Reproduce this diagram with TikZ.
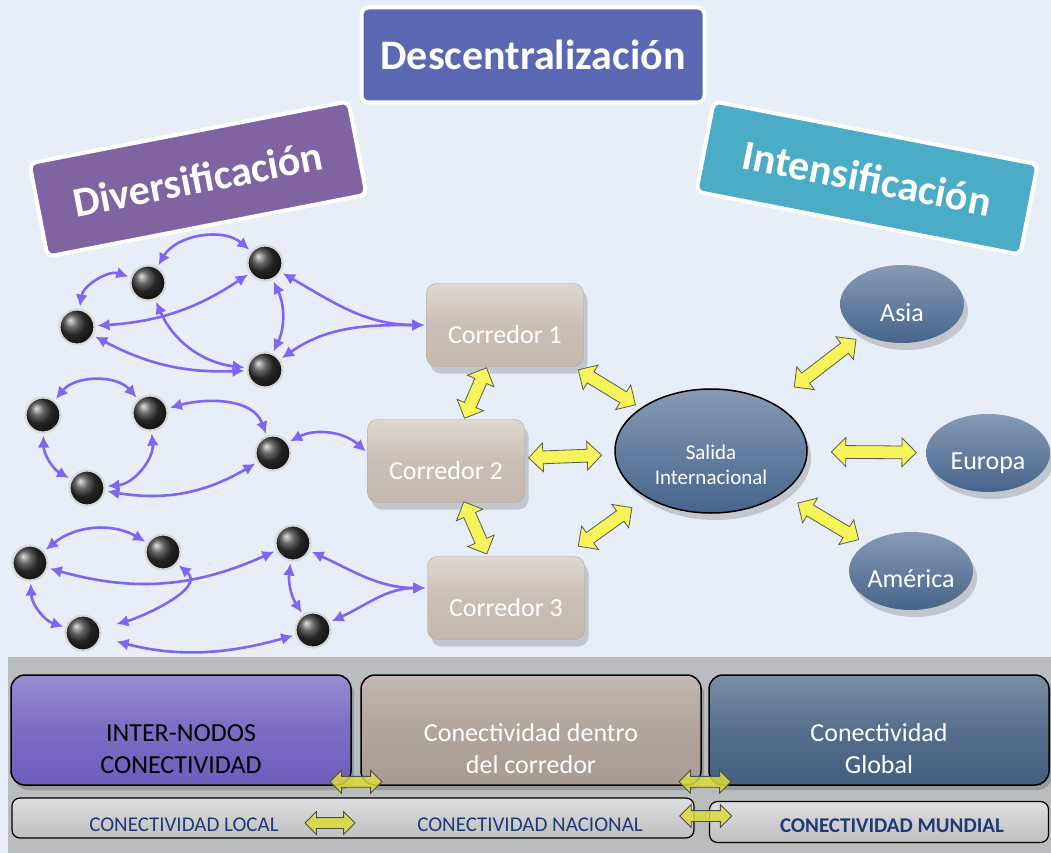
\documentclass[tikz,border=0pt]{standalone}
\usepackage{fontspec}
\setmainfont{Carlito}
\usetikzlibrary{arrows.meta,shapes.geometric,shapes.arrows,shadows,calc}

\definecolor{fondo}{HTML}{E8EEF7}
\definecolor{banda}{HTML}{B9BDBE}
\definecolor{moradoT}{HTML}{8064A2}
\definecolor{azulT}{HTML}{5A68B4}
\definecolor{aguaT}{HTML}{4BACC6}
\definecolor{taupe}{HTML}{C4B8AE}
\definecolor{azulE}{HTML}{46648C}
\definecolor{violeta}{HTML}{7F65F2}
\definecolor{amarillo}{HTML}{F5F55A}
\definecolor{oliva}{HTML}{DCDC3C}
\definecolor{morado}{HTML}{6E5CBD}
\definecolor{gris}{HTML}{A89B91}
\definecolor{azulG}{HTML}{435E80}
\definecolor{marino}{HTML}{1F3A78}

\tikzset{
  cabecera/.style={rectangle, rounded corners=7pt, draw=white, line width=4pt, text=white,
    font=\bfseries\fontsize{42}{44}\selectfont},
  bola/.style={circle, minimum size=35pt, inner sep=0pt, ball color=black!80, draw=gray!30, line width=2.2pt},
  parrow/.style={violeta, line width=2.6pt, {Latex[length=12pt,width=12pt]}-{Latex[length=12pt,width=12pt]},
    shorten <=2pt, shorten >=2pt},
  corredor/.style={rectangle, rounded corners=10pt, minimum width=157pt, minimum height=83pt,
    top color=taupe!55!white, bottom color=taupe, middle color=taupe!90!white, draw=taupe!90!black,
    text=white, font=\fontsize{26}{30}\selectfont, text height=37pt, text depth=0pt,
    drop shadow={shadow xshift=4pt, shadow yshift=-7pt, opacity=0.35}},
  region/.style={ellipse, minimum width=124pt, minimum height=78pt, inner sep=0pt,
    top color=azulE!65!white, bottom color=azulE, text=white, font=\fontsize{26}{30}\selectfont,
    drop shadow={shadow xshift=4pt, shadow yshift=-7pt, opacity=0.35}},
  yarrow/.style={double arrow, sloped, fill=amarillo, draw=black!65, line width=0.8pt, inner sep=6pt,
    double arrow head extend=8pt, minimum height=#1},
  pflecha/.style={double arrow, fill=oliva, fill opacity=0.85, draw=black!70, line width=0.8pt, inner sep=5pt,
    double arrow head extend=6pt, minimum height=#1},
  bloque/.style={rectangle, rounded corners=14pt, draw=black, line width=1.5pt, minimum width=340pt,
    minimum height=110pt, align=center, font=\fontsize{26}{32}\selectfont,
    drop shadow={shadow xshift=3pt, shadow yshift=-5pt, opacity=0.55}},
  barra/.style={rectangle, rounded corners=8pt, draw=black, line width=1.2pt, top color=gray!25,
    bottom color=gray!50, minimum height=40pt},
  rotulo/.style={text=marino, font=\fontsize{21}{24}\selectfont}
}

\begin{document}
\begin{tikzpicture}
  \useasboundingbox (0,0) rectangle (1051pt,-853pt);
  \begin{scope}[x=1pt,y=1pt]
    \fill[fondo] (0,0) rectangle (1051,-853);
    \fill[banda] (8,-657) rectangle (1051,-853);

    % titulos
    \node[cabecera, fill=azulT, minimum width=343pt, minimum height=95pt] (desc) at (533,-55) {Descentralización};
    \node[cabecera, fill=moradoT, minimum width=325pt, minimum height=95pt, rotate=11] (div) at (198,-179) {Diversificación};
    \node[cabecera, fill=aguaT, minimum width=330pt, minimum height=92pt, rotate=-11] (int) at (867,-178) {Intensificación};

    % corredores y salida
    \node[corredor] (cor1) at (505,-325) {Corredor 1};
    \node[corredor] (cor2) at (446,-461) {Corredor 2};
    \node[corredor] (cor3) at (506,-598) {Corredor 3};
    \node[region, minimum width=192pt, minimum height=124pt, draw=black, line width=1.5pt, align=center,
      font=\fontsize{21}{25}\selectfont] (sal) at (711,-451) {\strut\\Salida\\Internacional};
    \node[region, text height=35pt, text depth=0pt] (asia) at (902,-304) {Asia};
    \node[region, text height=32pt, text depth=0pt] (europa) at (988,-453) {Europa};
    \node[region, text height=32pt, text depth=0pt] (america) at (911,-571) {América};

    \coordinate (e2) at ([yshift=8pt]cor2.west);
    \coordinate (e3) at ([yshift=10pt]cor3.west);

    % nodos
    \node[bola] (a1) at (148,-283) {};
    \node[bola] (a2) at (265,-263) {};
    \node[bola] (a3) at (77,-327) {};
    \node[bola] (a4) at (265,-370) {};
    \node[bola] (b1) at (43,-415) {};
    \node[bola] (b2) at (150,-413) {};
    \node[bola] (b3) at (87,-488) {};
    \node[bola] (b4) at (273,-453) {};
    \node[bola] (c1) at (30,-563) {};
    \node[bola] (c2) at (163,-552) {};
    \node[bola] (c3) at (293,-543) {};
    \node[bola] (c4) at (83,-633) {};
    \node[bola] (c5) at (313,-630) {};

    \draw[parrow] (a1) to[bend left=50] (a2);
    \draw[parrow] (a3) to[bend left=50] (a1);
    \draw[parrow] (a3) to[bend right=15] (a2);
    \draw[parrow] (a1) to[bend right=30] (a4);
    \draw[parrow] (a3) to[bend right=15] (a4);
    \draw[parrow] (a2) to[bend left=25] (a4);
    \draw[parrow] (a2) to[out=-30,in=180] (cor1.west);
    \draw[parrow] (a4) to[out=35,in=180] (cor1.west);

    \draw[parrow] (b1) to[bend left=50] (b2);
    \draw[parrow] (b2) to[out=15,in=110] (b4);
    \draw[parrow] (b1) to[bend right=30] (b3);
    \draw[parrow] (b2) to[bend left=45] (b3);
    \draw[parrow] (b3) to[bend right=20] (b4);
    \draw[parrow] (b4) to[bend left=35] (e2);

    \draw[parrow] (c1) to[bend left=35] (c2);
    \draw[parrow] (c1) to[bend right=20] (c3);
    \draw[parrow] (c1) to[bend right=35] (c4);
    \draw[parrow, shorten >=16pt] (c2) to[out=-40,in=15] (c4);
    \draw[parrow, shorten <=16pt] (c4) to[bend right=15] (c5);
    \draw[parrow] (c3) to[bend right=20] (c5);
    \draw[parrow] (c3) to[out=-25,in=180] (e3);
    \draw[parrow] (c5) to[out=25,in=180] (e3);

    % flechas amarillas
    \path (cor1) -- node[yarrow=55pt] {} (cor2);
    \path (cor1) -- node[yarrow=67pt] {} (sal);
    \path (cor2) -- node[yarrow=73pt, pos=0.45] {} (sal);
    \path (cor2) -- node[yarrow=57pt, pos=0.47] {} (cor3);
    \path (cor3) -- node[yarrow=66pt] {} (sal);
    \path (sal) -- node[yarrow=78pt, pos=0.58] {} (asia);
    \path (sal) -- node[yarrow=85pt, pos=0.56] {} (europa);
    \path (sal) -- node[yarrow=71pt, pos=0.55] {} (america);

    % banda inferior
    \node[bloque, top color=morado!70!white, bottom color=morado, middle color=morado!90!white] (inter) at (181,-730) {\strut\\INTER-NODOS\\CONECTIVIDAD};
    \node[bloque, top color=gris!70!white, bottom color=gris, middle color=gris!90!white, text=white] (dentro) at (531,-730) {\strut\\Conectividad dentro\\del corredor};
    \node[bloque, top color=azulG!70!white, bottom color=azulG, middle color=azulG!90!white, text=white] (global) at (879,-730) {\strut\\Conectividad\\Global};
    \node[barra, minimum width=682pt] (nac) at (353,-818) {};
    \node[barra, minimum width=339pt, minimum height=41pt] (mundo) at (879,-822) {};
    \node[rotulo] (tlocal) at (184,-825) {CONECTIVIDAD LOCAL};
    \node[rotulo] (tnac) at (530,-825) {CONECTIVIDAD NACIONAL};
    \node[rotulo, font=\bfseries\fontsize{21}{24}\selectfont] (tmundo) at (892,-826) {CONECTIVIDAD MUNDIAL};

    \node[pflecha=52pt] (f1) at ($(inter.south east)!0.5!(dentro.south west)+(0,4)$) {};
    \node[pflecha=52pt] (f2) at ($(dentro.south east)!0.5!(global.south west)+(0,4)$) {};
    \node[pflecha=50pt] (f3) at (330,-823) {};
    \node[pflecha=52pt] (f4) at ($(nac.east)!0.5!(mundo.west)+(4,4)$) {};
  \end{scope}
\end{tikzpicture}
\end{document}
